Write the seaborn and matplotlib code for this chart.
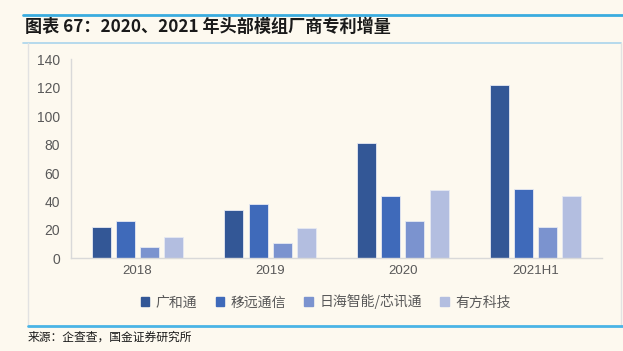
import matplotlib.pyplot as plt
import matplotlib.lines as mlines
import matplotlib.patches as mpatches
import pandas as pd
import seaborn as sns

periods = ["2018", "2019", "2020", "2021H1"]
companies = ["广和通", "移远通信", "日海智能/芯讯通", "有方科技"]
guanghetong = [22, 34, 81, 122]
yiyuan = [26, 38, 44, 49]
rihai = [8, 11, 26, 22]
youfang = [15, 21, 48, 44]
colors = ["#335796", "#3F6ABA", "#7B93CF", "#B3BEE0"]

BG = "#FDF9EF"


def main():
    df = pd.DataFrame(
        {
            "period": periods,
            companies[0]: guanghetong,
            companies[1]: yiyuan,
            companies[2]: rihai,
            companies[3]: youfang,
        }
    )
    df = df.melt(id_vars="period", var_name="company", value_name="count")

    sns.set_style("white")
    plt.rcParams["font.family"] = ["Noto Sans CJK SC", "DejaVu Sans"]

    fig = plt.figure(figsize=(6.23, 3.51), dpi=100, facecolor=BG)
    ax = fig.add_axes([71 / 623, 1 - 258.3 / 351, 531 / 623, 199 / 351])
    ax.set_facecolor(BG)

    sns.barplot(
        data=df, x="period", y="count", hue="company", palette=colors,
        width=0.73, ax=ax, legend=False, saturation=1,
        edgecolor="#E6E9F2", linewidth=0.6,
    )
    # narrow each bar a little to open gaps between them
    for p in ax.patches:
        w = p.get_width()
        p.set_x(p.get_x() + (w - 0.143) / 2)
        p.set_width(0.143)

    ax.set_xlim(-0.5, 3.5)
    ax.set_ylim(0, 140)
    ax.set_yticks(range(0, 141, 20))
    ax.set_xlabel("")
    ax.set_ylabel("")
    for s in ["top", "right"]:
        ax.spines[s].set_visible(False)
    for s in ["left", "bottom"]:
        ax.spines[s].set_color("#D9D9D9")
        ax.spines[s].set_linewidth(1.0)
    ax.tick_params(axis="y", colors="#595959", labelsize=10, length=2,
                   color="#D9D9D9", pad=6)
    ax.tick_params(axis="x", colors="#595959", labelsize=9.5, length=0, pad=5)
    for lab in ax.get_xticklabels() + ax.get_yticklabels():
        lab.set_family("Liberation Sans")

    handles = [mpatches.Patch(color=c, label=n) for c, n in zip(colors, companies)]
    leg = fig.legend(
        handles=handles, loc="center", bbox_to_anchor=(0.523, 0.14), ncol=4,
        frameon=False, fontsize=10, handlelength=0.6, handleheight=0.6,
        handletextpad=0.5, columnspacing=1.3,
    )
    for t in leg.get_texts():
        t.set_color("#595959")

    # header line and title
    fig.add_artist(mlines.Line2D([23 / 623, 1], [1 - 14.5 / 351] * 2,
                                 color="#3AACDF", lw=2))
    fig.text(25 / 623, 1 - 27 / 351, "图表 67：2020、2021 年头部模组厂商专利增量",
             fontsize=12.3, fontweight="bold", style="italic", va="center",
             color="#1A1A1A")

    # chart box
    fig.add_artist(mlines.Line2D([23 / 623, 621 / 623], [1 - 42.5 / 351] * 2,
                                 color="#A9D4EC", lw=1.2))
    fig.add_artist(mlines.Line2D([27.5 / 623] * 2, [1 - 43 / 351, 1 - 325 / 351],
                                 color="#E2E2E2", lw=1))
    fig.add_artist(mlines.Line2D([620.5 / 623] * 2, [1 - 43 / 351, 1 - 325 / 351],
                                 color="#E2E2E2", lw=1))
    fig.add_artist(mlines.Line2D([28 / 623, 1], [1 - 325.5 / 351] * 2,
                                 color="#4AB4E6", lw=2))

    fig.text(28 / 623, 1 - 337 / 351, "来源：企查查，国金证券研究所",
             fontsize=8.5, va="center", color="#1A1A1A")

    plt.savefig("out.png", dpi=100, facecolor=BG)


if __name__ == "__main__":
    main()
